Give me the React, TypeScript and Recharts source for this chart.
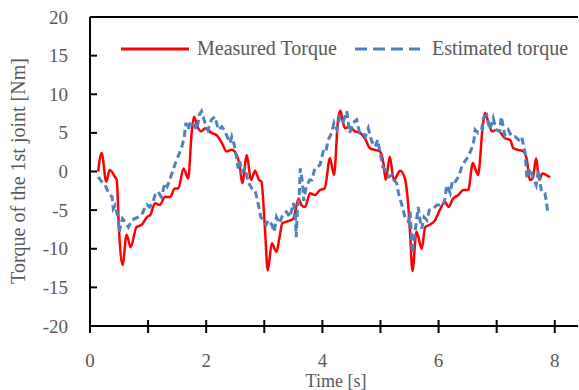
import { LineChart, Line, XAxis, YAxis, ReferenceLine, Legend } from 'recharts';

const measuredTime = [
  0.14, 0.2, 0.28, 0.34, 0.43, 0.46, 0.5, 0.56, 0.63, 0.7, 0.8, 0.89, 0.98, 1.04, 1.12, 1.2, 1.29, 1.38, 1.46, 1.52,
  1.61, 1.69, 1.75, 1.79, 1.85, 1.92, 1.98, 2.09, 2.18, 2.27, 2.35, 2.44, 2.5, 2.58, 2.62, 2.7, 2.77, 2.84, 2.91, 2.95,
  3.01, 3.06, 3.13, 3.21, 3.26, 3.31, 3.38, 3.5, 3.59, 3.64, 3.7, 3.79, 3.87, 3.96, 4.04, 4.13, 4.2, 4.27, 4.31, 4.35,
  4.39, 4.46, 4.56, 4.65, 4.73, 4.82, 4.91, 4.99, 5.05, 5.09, 5.16, 5.23, 5.34, 5.42, 5.48, 5.51, 5.55, 5.62, 5.71, 5.77,
  5.85, 5.94, 6.02, 6.11, 6.17, 6.25, 6.34, 6.43, 6.51, 6.59, 6.64, 6.68, 6.76, 6.8, 6.86, 6.92, 7.0, 7.07, 7.14, 7.23,
  7.29, 7.37, 7.46, 7.52, 7.57, 7.62, 7.68, 7.73, 7.79, 7.85, 7.92,
];
const measuredTorque = [
  0, 2.4, -1.3, 0.2, -0.7, -1.1, -7.6, -12.1, -8.2, -9.8, -7.2, -6.9, -5.9, -5.6, -4.1, -4.35, -3.3, -3.3, -2.2, -2.2,
  0.4, -0.9, 5.0, 7.1, 5.8, 5.2, 5.6, 5.0, 4.7, 3.7, 2.6, 2.8, 2.5, 0.6, -1.5, 2.1, -1.1, 0.1, -1.1, -1.3,
  -7.2, -12.8, -9.3, -10.4, -8.6, -6.7, -6.5, -6.1, -3.5, -4.35, -4.6, -2.8, -3.05, -2.4, -2.2, 1.7, -0.45, 6.7, 7.9, 6.5,
  5.6, 5.8, 5.2, 5.0, 4.3, 3.0, 2.8, 2.6, 1.1, -1.1, 1.9, -1.1, 0.1, -0.9, -4.6, -8.0, -12.9, -7.8, -10.0, -7.2,
  -6.9, -6.3, -5.0, -3.9, -4.6, -3.5, -3.05, -2.4, -2.4, 1.1, 0.2, -0.45, 5.8, 7.6, 6.3, 5.2, 5.4, 5.0, 4.3, 4.1,
  3.0, 2.8, 2.6, 1.5, -1.1, -0.9, 1.7, -1.1, -0.25, -0.45, -0.75,
];

const estimatedTime = [
  0.14, 0.2, 0.26, 0.32, 0.38, 0.4, 0.43, 0.49, 0.5, 0.56, 0.6, 0.66, 0.72, 0.77, 0.83, 0.89, 0.95, 0.98, 1.03, 1.08,
  1.12, 1.17, 1.23, 1.29, 1.33, 1.38, 1.43, 1.49, 1.54, 1.58, 1.62, 1.65, 1.69, 1.73, 1.78, 1.84, 1.88, 1.92, 1.98, 2.03,
  2.09, 2.15, 2.21, 2.27, 2.31, 2.35, 2.41, 2.44, 2.48, 2.52, 2.55, 2.58, 2.61, 2.67, 2.73, 2.79, 2.84, 2.9, 2.94, 2.98,
  3.03, 3.07, 3.13, 3.17, 3.21, 3.26, 3.33, 3.38, 3.44, 3.5, 3.53, 3.55, 3.57, 3.6, 3.62, 3.65, 3.68, 3.72, 3.78, 3.82,
  3.87, 3.96, 4.02, 4.06, 4.1, 4.16, 4.2, 4.25, 4.3, 4.36, 4.42, 4.47, 4.53, 4.59, 4.64, 4.7, 4.74, 4.79, 4.85, 4.91,
  4.95, 5.0, 5.04, 5.08, 5.14, 5.2, 5.23, 5.28, 5.31, 5.37, 5.42, 5.48, 5.51, 5.55, 5.59, 5.62, 5.65, 5.68, 5.71, 5.75,
  5.8, 5.84, 5.91, 5.97, 6.02, 6.08, 6.11, 6.14, 6.2, 6.24, 6.29, 6.34, 6.4, 6.45, 6.51, 6.57, 6.61, 6.63, 6.68, 6.74,
  6.77, 6.83, 6.88, 6.94, 6.99, 7.05, 7.08, 7.14, 7.2, 7.26, 7.32, 7.38, 7.43, 7.49, 7.52, 7.57, 7.61, 7.68, 7.72, 7.77,
  7.83, 7.86, 7.88,
];
const estimatedTorque = [
  -0.7, -1.3, -1.75, -2.8, -3.3, -4.8, -4.4, -6.1, -7.8, -6.1, -6.5, -7.2, -6.3, -6.1, -5.9, -5.6, -4.6, -4.3, -4.6, -4.0,
  -3.05, -2.6, -3.3, -1.5, -1.95, -0.9, 0.2, 1.5, 2.4, 3.2, 4.3, 6.3, 5.4, 6.5, 6.1, 5.4, 7.3, 7.8, 6.3, 5.4,
  6.7, 7.1, 5.4, 5.8, 5.4, 4.7, 3.7, 4.5, 3.5, 1.9, 0.4, 1.3, -0.1, 0.4, -1.5, -2.2, -2.4, -4.35, -5.9, -6.3,
  -6.9, -6.3, -6.9, -7.8, -5.9, -6.7, -5.4, -5.2, -5.9, -4.1, -5.2, -8.5, -4.8, -3.3, 0.4, -1.0, -3.8, -2.0, -1.1, -1.1,
  0.4, 0.85, 2.8, 2.6, 4.1, 5.0, 6.3, 5.4, 7.1, 6.5, 7.8, 5.0, 6.3, 6.7, 5.0, 5.0, 4.5, 5.6, 3.9, 3.2,
  4.1, 2.2, 0.6, 0.2, -0.7, -0.45, -1.1, -1.5, -2.8, -4.35, -5.9, -6.5, -5.2, -10.6, -8.2, -6.3, -4.6, -6.3, -7.4, -5.9,
  -6.3, -5.0, -4.8, -4.35, -4.35, -4.4, -3.5, -1.75, -2.8, -1.1, -1.3, -0.7, 0.6, 1.3, 1.9, 3.0, 4.1, 5.4, 5.0, 5.4,
  6.9, 7.3, 5.4, 6.9, 5.4, 5.2, 7.1, 4.7, 5.4, 4.5, 4.5, 4.1, 4.5, 2.4, -0.9, 0.4, -0.45, -1.75, 0.2, -2.6,
  -2.8, -4.1, -5.4,
];

const xTicks = [0, 1, 2, 3, 4, 5, 6, 7, 8];
const yTicks = [-20, -15, -10, -5, 0, 5, 10, 15, 20];

const seriesNames = ['Measured Torque', 'Estimated torque'];

const measured = measuredTime.map((t, i) => ({ t, v: measuredTorque[i] }));
const estimated = estimatedTime.map((t, i) => ({ t, v: estimatedTorque[i] }));

const FONT = "'Palatino Linotype', 'Book Antiqua', Palatino, 'Liberation Serif', serif";
const GREY = '#595959';
const RED = '#FF0000';
const BLUE = '#4F81BD';

function XTick({ x, y, payload }: any) {
  const v = payload.value;
  return (
    <g>
      <line x1={x} x2={x} y1={y - 6} y2={y + 7} stroke="#000" strokeWidth={2} />
      {v % 2 === 0 && (
        <text x={x} y={y + 41} textAnchor="middle" fill={GREY} fontSize={19} fontFamily={FONT}>
          {v}
        </text>
      )}
    </g>
  );
}

function YTick({ x, y, payload }: any) {
  return (
    <g>
      <line x1={x} x2={x + 7} y1={y} y2={y} stroke="#000" strokeWidth={2} />
      <text x={x - 22} y={y} dy={6.5} textAnchor="end" fill={GREY} fontSize={19} fontFamily={FONT}>
        {payload.value}
      </text>
    </g>
  );
}

function LegendBox() {
  return (
    <svg width={579} height={60} style={{ display: 'block' }}>
      <line x1={121} x2={189} y1={49} y2={49} stroke={RED} strokeWidth={3} />
      <text x={197} y={55} fill={GREY} fontSize={20} fontFamily={FONT}>{seriesNames[0]}</text>
      <line x1={355} x2={420} y1={49} y2={49} stroke={BLUE} strokeWidth={3} strokeDasharray="12 6" />
      <text x={432} y={55} fill={GREY} fontSize={20} fontFamily={FONT}>{seriesNames[1]}</text>
    </svg>
  );
}

export default function App() {
  return (
    <div style={{ position: 'absolute', left: 0, top: 0, width: 579, height: 390, background: '#fff' }}>
      <LineChart width={579} height={390} margin={{ top: 17, right: 1, bottom: 0, left: 0 }}>
        <XAxis
          dataKey="t"
          type="number"
          domain={[0, 8.4]}
          ticks={xTicks}
          interval={0}
          allowDataOverflow
          axisLine={{ stroke: '#000', strokeWidth: 2 }}
          tickLine={false}
          tickSize={0}
          tickMargin={0}
          tick={<XTick />}
          height={64}
          label={{
            content: () => (
              <text x={336} y={387} textAnchor="middle" fill={GREY} fontSize={18} fontFamily={FONT}>
                Time [s]
              </text>
            ),
          }}
        />
        <YAxis
          type="number"
          domain={[-20, 20]}
          ticks={yTicks}
          interval={0}
          allowDataOverflow
          axisLine={{ stroke: '#000', strokeWidth: 2 }}
          tickLine={false}
          tickSize={0}
          tickMargin={0}
          tick={<YTick />}
          width={90}
          label={{
            content: () => (
              <text
                x={18}
                y={171}
                transform="rotate(-90 18 171)"
                textAnchor="middle"
                dominantBaseline="central"
                fill={GREY}
                fontSize={20}
                fontFamily={FONT}
              >
                Torque of the 1st joint [Nm]
              </text>
            ),
          }}
        />
        <ReferenceLine y={20} stroke="#000" strokeWidth={2} />
        <Legend
          layout="horizontal"
          verticalAlign="middle"
          align="center"
          wrapperStyle={{ top: 0, left: 0, width: 579, height: 60 }}
          content={() => <LegendBox />}
        />
        <Line
          data={measured}
          dataKey="v"
          name={seriesNames[0]}
          type="monotone"
          stroke={RED}
          strokeWidth={2.5}
          dot={false}
          isAnimationActive={false}
        />
        <Line
          data={estimated}
          dataKey="v"
          name={seriesNames[1]}
          type="linear"
          stroke={BLUE}
          strokeWidth={3}
          strokeDasharray="7 4"
          dot={false}
          isAnimationActive={false}
        />
      </LineChart>
    </div>
  );
}
